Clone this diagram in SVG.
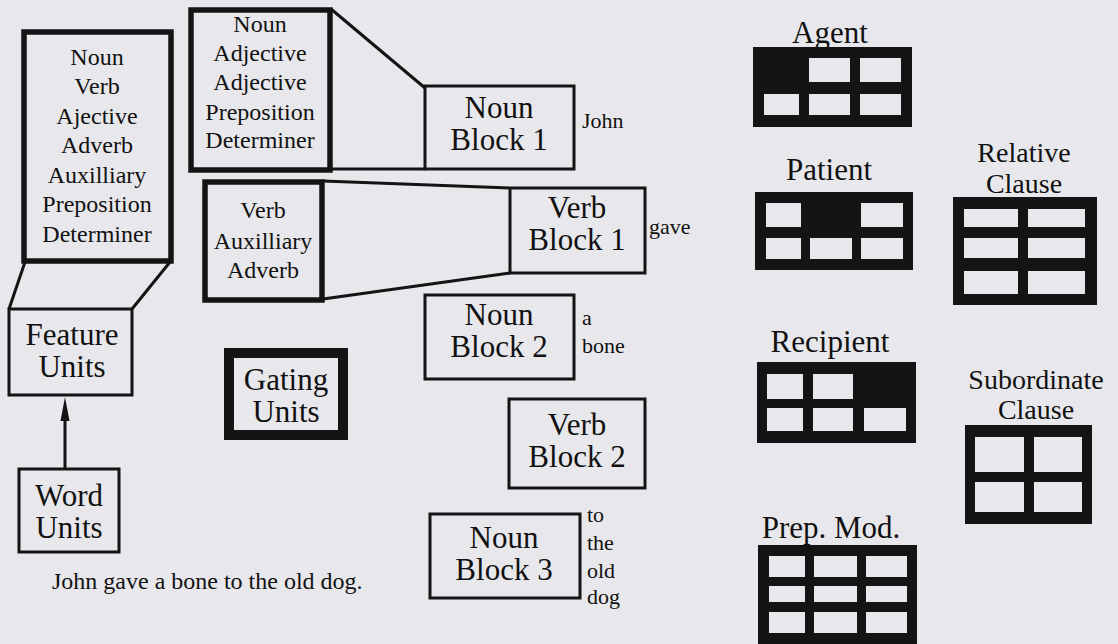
<svg xmlns="http://www.w3.org/2000/svg" width="1118" height="644" viewBox="0 0 1118 644">
<style>
text{font-family:"Liberation Serif","Times New Roman",serif;fill:#111;text-anchor:middle}
.big{font-size:31px}
.two{font-size:28px}
.list{font-size:24px}
.lab{font-size:22px;text-anchor:start}
.cap{font-size:24px;text-anchor:start}
.box{fill:none;stroke:#141414;stroke-width:3}
.tbox{fill:none;stroke:#141414;stroke-width:5.5}
.gbox{fill:none;stroke:#141414;stroke-width:10}
.ln{fill:none;stroke:#141414;stroke-width:3}
.grid{fill:#141414}
.cell{fill:#e8e8ec}
</style>
<rect width="1118" height="644" fill="#e8e8ec"/>
<g id="connectors">
<line class="ln" x1="25" y1="262" x2="9" y2="309"/>
<line class="ln" x1="170" y1="262" x2="132" y2="309"/>
<line class="ln" x1="331" y1="9" x2="425" y2="88"/>
<line class="ln" x1="331" y1="169" x2="425" y2="169"/>
<line class="ln" x1="323" y1="181" x2="510" y2="188"/>
<line class="ln" x1="323" y1="299" x2="510" y2="273"/>
<line class="ln" x1="65" y1="468" x2="65" y2="418"/>
<polygon points="65,397 60.5,421 69.5,421" fill="#141414"/>
</g>
<g id="feature-list">
<rect class="tbox" x="24" y="32" width="147" height="229"/>
<text class="list" x="97" y="65">Noun</text>
<text class="list" x="97" y="94">Verb</text>
<text class="list" x="97" y="124">Ajective</text>
<text class="list" x="97" y="153">Adverb</text>
<text class="list" x="97" y="183">Auxilliary</text>
<text class="list" x="97" y="212">Preposition</text>
<text class="list" x="97" y="242">Determiner</text>
</g>
<g id="feature-units">
<rect class="box" x="9" y="309" width="123" height="86"/>
<text class="big" x="72" y="345">Feature</text>
<text class="big" x="72" y="377">Units</text>
</g>
<g id="word-units">
<rect class="box" x="19" y="469" width="100" height="83"/>
<text class="big" x="69" y="506">Word</text>
<text class="big" x="69" y="538">Units</text>
</g>
<g id="gating-units">
<rect class="gbox" x="229" y="353" width="114" height="82"/>
<text class="big" x="286" y="390">Gating</text>
<text class="big" x="286" y="422">Units</text>
</g>
<g id="noun-list">
<rect class="tbox" x="191" y="10" width="139" height="160"/>
<text class="list" x="260" y="32">Noun</text>
<text class="list" x="260" y="61">Adjective</text>
<text class="list" x="260" y="90">Adjective</text>
<text class="list" x="260" y="120">Preposition</text>
<text class="list" x="260" y="148">Determiner</text>
</g>
<g id="verb-list">
<rect class="tbox" x="205" y="182" width="117" height="118"/>
<text class="list" x="263" y="218">Verb</text>
<text class="list" x="263" y="249">Auxilliary</text>
<text class="list" x="263" y="278">Adverb</text>
</g>
<g id="noun-block-1">
<rect class="box" x="425" y="86" width="149" height="83"/>
<text class="big" x="499" y="118">Noun</text>
<text class="big" x="499" y="150">Block 1</text>
<text class="lab" x="582" y="128">John</text>
</g>
<g id="verb-block-1">
<rect class="box" x="510" y="188" width="135" height="85"/>
<text class="big" x="577" y="218">Verb</text>
<text class="big" x="577" y="250">Block 1</text>
<text class="lab" x="649" y="234">gave</text>
</g>
<g id="noun-block-2">
<rect class="box" x="425" y="295" width="149" height="84"/>
<text class="big" x="499" y="325">Noun</text>
<text class="big" x="499" y="357">Block 2</text>
<text class="lab" x="582" y="325">a</text>
<text class="lab" x="582" y="353">bone</text>
</g>
<g id="verb-block-2">
<rect class="box" x="509" y="399" width="136" height="89"/>
<text class="big" x="577" y="435">Verb</text>
<text class="big" x="577" y="467">Block 2</text>
</g>
<g id="noun-block-3">
<rect class="box" x="430" y="514" width="150" height="84"/>
<text class="big" x="504" y="548">Noun</text>
<text class="big" x="504" y="580">Block 3</text>
<text class="lab" x="587" y="522">to</text>
<text class="lab" x="587" y="550">the</text>
<text class="lab" x="587" y="578">old</text>
<text class="lab" x="587" y="604">dog</text>
</g>
<text class="cap" x="52" y="589">John gave a bone to the old dog.</text>
<g id="agent">
<text class="big" x="830" y="43">Agent</text>
<rect class="grid" x="753" y="47" width="159" height="80"/>
<rect class="cell" x="809" y="58" width="41" height="24"/>
<rect class="cell" x="860" y="58" width="41" height="24"/>
<rect class="cell" x="764" y="94" width="35" height="21"/>
<rect class="cell" x="809" y="94" width="41" height="21"/>
<rect class="cell" x="860" y="94" width="41" height="21"/>
</g>
<g id="patient">
<text class="big" x="829" y="180">Patient</text>
<rect class="grid" x="755" y="192" width="158" height="78"/>
<rect class="cell" x="766" y="203" width="35" height="24"/>
<rect class="cell" x="861" y="203" width="42" height="24"/>
<rect class="cell" x="766" y="238" width="35" height="21"/>
<rect class="cell" x="810" y="238" width="42" height="21"/>
<rect class="cell" x="861" y="238" width="42" height="21"/>
</g>
<g id="recipient">
<text class="big" x="830" y="352">Recipient</text>
<rect class="grid" x="757" y="362" width="159" height="81"/>
<rect class="cell" x="767" y="374" width="36" height="25"/>
<rect class="cell" x="813" y="374" width="40" height="25"/>
<rect class="cell" x="767" y="408" width="36" height="23"/>
<rect class="cell" x="813" y="408" width="40" height="23"/>
<rect class="cell" x="864" y="408" width="42" height="23"/>
</g>
<g id="relative-clause">
<text class="two" x="1024" y="162">Relative</text>
<text class="two" x="1024" y="193">Clause</text>
<rect class="grid" x="953" y="197" width="144" height="108"/>
<rect class="cell" x="964" y="209" width="54" height="18"/>
<rect class="cell" x="1028" y="209" width="57" height="18"/>
<rect class="cell" x="964" y="238" width="54" height="20"/>
<rect class="cell" x="1028" y="238" width="57" height="20"/>
<rect class="cell" x="964" y="271" width="54" height="23"/>
<rect class="cell" x="1028" y="271" width="57" height="23"/>
</g>
<g id="subordinate-clause">
<text class="two" x="1036" y="389">Subordinate</text>
<text class="two" x="1036" y="419">Clause</text>
<rect class="grid" x="965" y="425" width="127" height="99"/>
<rect class="cell" x="975" y="437" width="49" height="35"/>
<rect class="cell" x="1034" y="437" width="48" height="35"/>
<rect class="cell" x="975" y="482" width="49" height="30"/>
<rect class="cell" x="1034" y="482" width="48" height="30"/>
</g>
<g id="prep-mod">
<text class="big" x="831" y="538">Prep. Mod.</text>
<rect class="grid" x="758" y="545" width="159" height="101"/>
<rect class="cell" x="769" y="556" width="36" height="21"/>
<rect class="cell" x="814" y="556" width="43" height="21"/>
<rect class="cell" x="866" y="556" width="41" height="21"/>
<rect class="cell" x="769" y="586" width="36" height="16"/>
<rect class="cell" x="814" y="586" width="43" height="16"/>
<rect class="cell" x="866" y="586" width="41" height="16"/>
<rect class="cell" x="769" y="612" width="36" height="21"/>
<rect class="cell" x="814" y="612" width="43" height="21"/>
<rect class="cell" x="866" y="612" width="41" height="21"/>
</g>
</svg>
